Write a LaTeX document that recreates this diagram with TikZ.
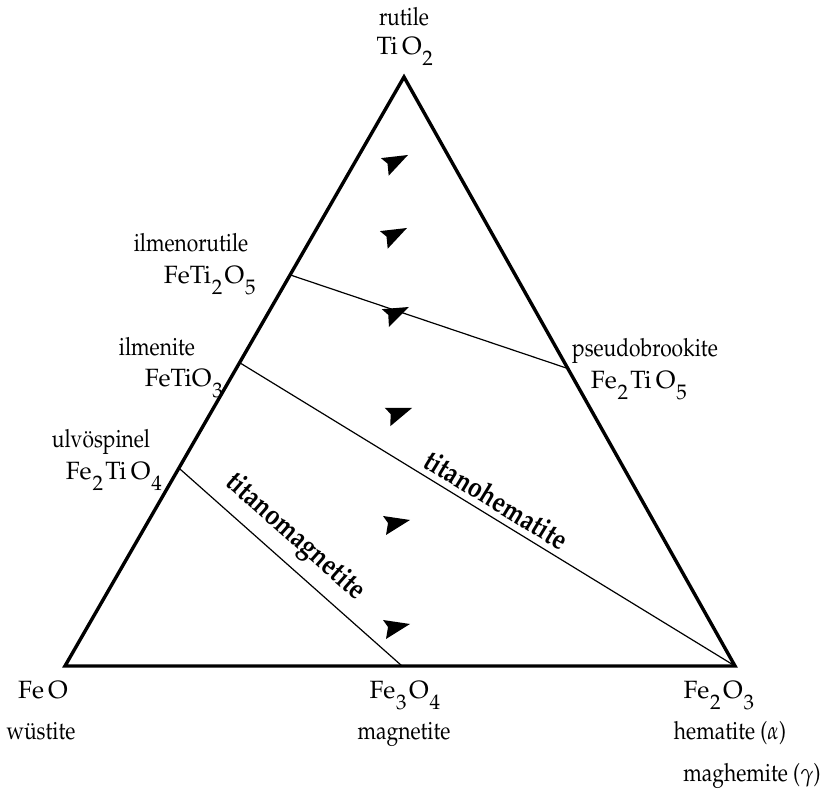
\documentclass[tikz,border=0pt]{standalone}
\usepackage[T1]{fontenc}
\usepackage{mathpazo}
\usetikzlibrary{calc}
\newcommand{\chemsub}[1]{\kern0.4pt\raisebox{-5.5pt}{\fontsize{10.5}{11}\selectfont #1}\kern1.2pt}
\newcommand{\nar}[1]{\scalebox{0.84}[1]{#1}}

\begin{document}
\begin{tikzpicture}[x=0.5pt,y=0.5pt,
  lbl/.style={anchor=base,inner sep=0pt,font=\fontsize{12.5}{14}\selectfont},
  series/.style={font=\fontsize{14.5}{16}\selectfont\bfseries,inner sep=2pt},
  oxdart/.pic={\fill (0,0) -- (-27,4) -- (-22,-3) -- (-24,-15) -- cycle;}]
  \useasboundingbox (0,0) rectangle (823,790);
  % corners of the diagram
  \coordinate (feo) at (65,124);
  \coordinate (fe2o3) at (735,124);
  \coordinate (tio2) at (404,713);
  % intermediate compositions
  \coordinate (ulv) at ($(feo)!0.336!(tio2)$);
  \coordinate (ilm) at ($(feo)!0.515!(tio2)$);
  \coordinate (ilmrut) at ($(feo)!0.664!(tio2)$);
  \coordinate (psb) at ($(fe2o3)!0.505!(tio2)$);
  \coordinate (mag) at ($(feo)!0.503!(fe2o3)$);
  \draw[line width=1.7pt,line join=miter] (feo) -- (fe2o3) -- (tio2) -- cycle;
  \draw[line width=0.6pt] (ilmrut) -- (psb);
  \draw[line width=0.6pt] (ilm) -- node[series,sloped,above=1pt,pos=0.5] {\nar{titanohematite}} (fe2o3);
  \draw[line width=0.6pt] (ulv) -- node[series,sloped,above=3pt,pos=0.445] {\nar{titanomagnetite}} (mag);
  % oxidation arrows
  \pic[rotate=15] at (408,635) {oxdart};
  \pic[rotate=15] at (407,562) {oxdart};
  \pic[rotate=13] at (409,483) {oxdart};
  \pic[rotate=8] at (412,382) {oxdart};
  \pic at (410,270) {oxdart};
  \pic at (410,166) {oxdart};
  % labels
  \node[lbl] (rut) at (404,764) {\nar{rutile}};
  \node[lbl] (rutf) at (406,735) {Ti\,O\chemsub{2}};
  \node[lbl] (irut) at (191,538) {\nar{ilmenorutile}};
  \node[lbl] (irutf) at (211,506) {FeTi\chemsub{2}O\chemsub{5}};
  \node[lbl] (ilmn) at (157,434) {\nar{ilmenite}};
  \node[lbl] (ilmf) at (185,403) {FeTiO\chemsub{3}};
  \node[lbl] (ulvn) at (101,342) {\nar{ulv\"ospinel}};
  \node[lbl] (ulvf) at (115,310) {Fe\chemsub{2}Ti\,O\chemsub{4}};
  \node[lbl] (psbn) at (645,433) {\nar{pseudobrookite}};
  \node[lbl] (psbf) at (640,401) {Fe\chemsub{2}Ti\,O\chemsub{5}};
  \node[lbl] (feof) at (43,91) {Fe\,O};
  \node[lbl] (feon) at (41,50) {\nar{w\"ustite}};
  \node[lbl] (magf) at (406,91) {Fe\chemsub{3}O\chemsub{4}};
  \node[lbl] (magn) at (404,50) {\nar{magnetite}};
  \node[lbl] (hemf) at (720,91) {Fe\chemsub{2}O\chemsub{3}};
  \node[lbl] (hemn) at (730,50) {\nar{hematite ($\alpha$)}};
  \node[lbl] (maghn) at (752,8) {\nar{maghemite ($\gamma$)}};
\end{tikzpicture}
\end{document}
